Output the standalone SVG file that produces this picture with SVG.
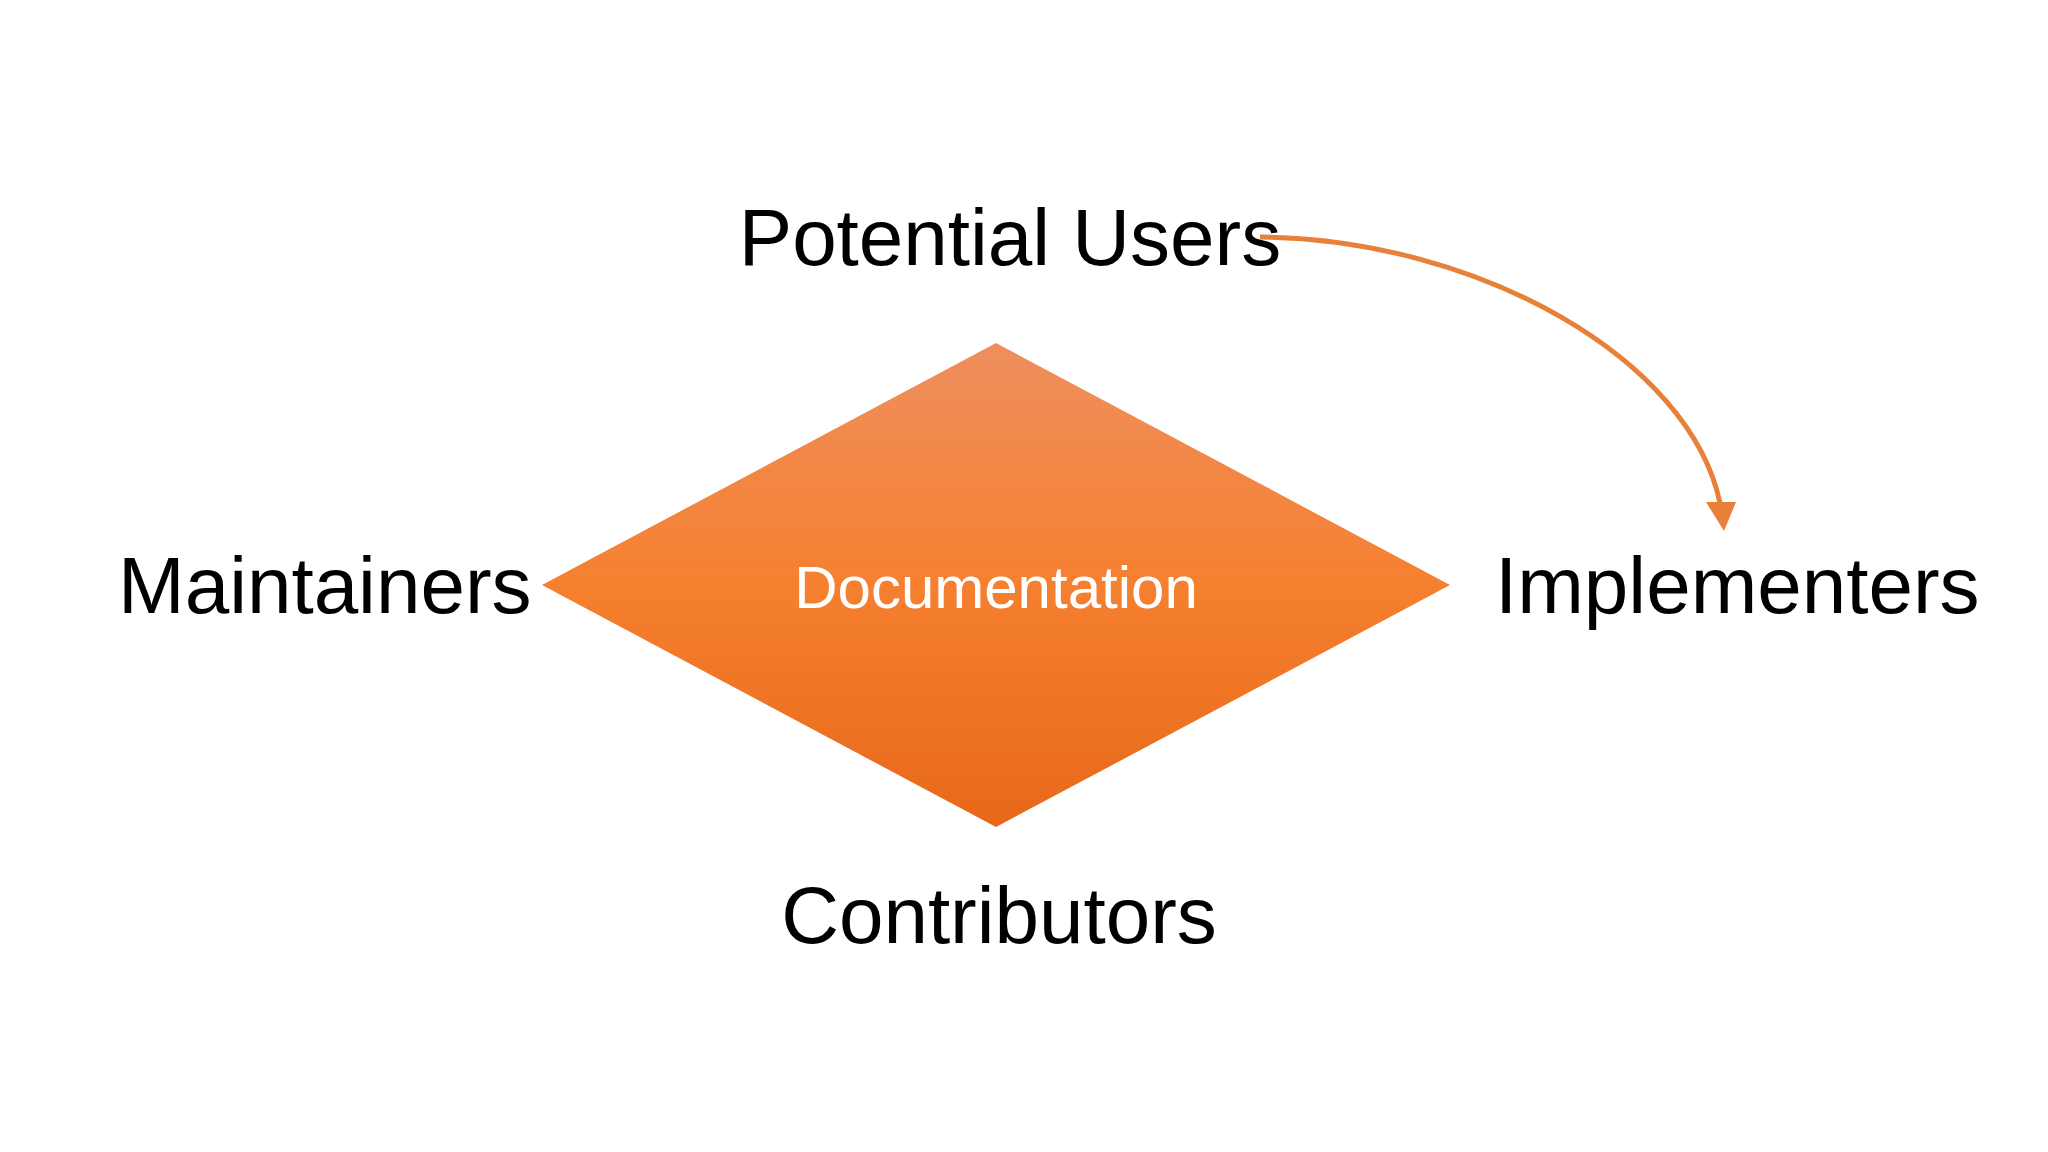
<svg xmlns="http://www.w3.org/2000/svg" width="2048" height="1152" viewBox="0 0 2048 1152">
<style>
.lbl{font-family:"Liberation Sans",Arial,sans-serif;font-size:80px;fill:#000}
.doc{font-family:"Liberation Sans",Arial,sans-serif;font-size:60px;fill:#fff}
</style>
<defs>
<linearGradient id="g" x1="0" y1="0" x2="0" y2="1">
<stop offset="0" stop-color="#EE8F5E"/>
<stop offset="0.5" stop-color="#F5802F"/>
<stop offset="1" stop-color="#E8681A"/>
</linearGradient>
<marker id="ah" markerWidth="8" markerHeight="8" refX="4" refY="4" orient="auto" markerUnits="userSpaceOnUse" viewBox="0 0 8 8">
<path d="M0,0 L8,4 L0,8 z" fill="#E8803A"/>
</marker>
</defs>
<rect width="2048" height="1152" fill="#fff"/>
<g id="documentation">
<polygon points="996,343 1450,585 996,827 542,585" fill="url(#g)"/>
<text class="doc" x="996" y="608" text-anchor="middle">Documentation</text>
</g>
<g id="potential-users"><text class="lbl" x="1010" y="265" text-anchor="middle">Potential Users</text></g>
<g id="maintainers"><text class="lbl" x="118" y="613">Maintainers</text></g>
<g id="implementers"><text class="lbl" x="1495" y="613">Implementers</text></g>
<g id="contributors"><text class="lbl" x="999" y="943" text-anchor="middle">Contributors</text></g>
<g id="connectors">
<path d="M1260,237 C1480,239 1690,360 1720,503" fill="none" stroke="#E8803A" stroke-width="5"/>
<path d="M1706,502 L1736,502 L1724,531 z" fill="#E8803A"/>
</g>
</svg>
